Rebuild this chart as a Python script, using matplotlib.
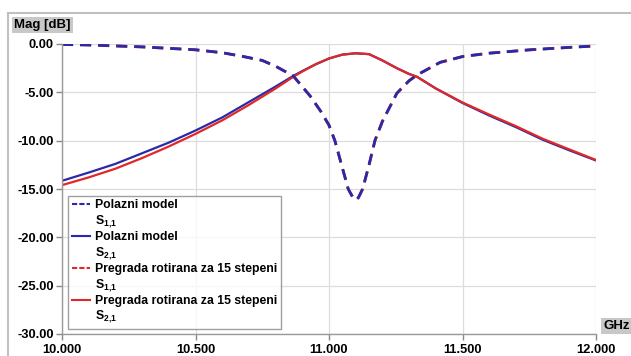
import numpy as np
import matplotlib
matplotlib.use("Agg")
import matplotlib.pyplot as plt
from matplotlib.lines import Line2D

plt.rcParams['font.family'] = ['Liberation Sans', 'DejaVu Sans']
plt.rcParams['font.weight'] = 'bold'
plt.rcParams['mathtext.fontset'] = 'custom'
plt.rcParams['mathtext.rm'] = 'Liberation Sans:bold'
plt.rcParams['mathtext.it'] = 'Liberation Sans:bold'
plt.rcParams['mathtext.bf'] = 'Liberation Sans:bold'

# S1,1 (reflection) - frequency in GHz, magnitude in dB
f_s11 = [10.0, 10.1, 10.2, 10.3, 10.4, 10.5, 10.6, 10.68, 10.75, 10.8, 10.866,
         10.93, 10.97, 11.0, 11.022, 11.05, 11.072, 11.09, 11.1, 11.11, 11.126,
         11.15, 11.172, 11.2, 11.228, 11.254, 11.3, 11.33, 11.416, 11.5, 11.6,
         11.753, 11.9, 12.0]
s11_polazni = [-0.05, -0.1, -0.2, -0.3, -0.45, -0.6, -0.9, -1.3, -1.7, -2.3, -3.3,
               -5.4, -7.0, -8.4, -10.0, -12.8, -15.0, -15.9, -16.15, -15.9, -15.0,
               -12.5, -10.0, -8.0, -6.5, -5.1, -3.8, -3.2, -1.9, -1.3, -0.95,
               -0.6, -0.35, -0.2]
s11_pregrada = [-0.05, -0.1, -0.2, -0.3, -0.45, -0.6, -0.9, -1.3, -1.7, -2.3, -3.3,
                -5.4, -7.0, -8.4, -10.0, -12.8, -15.0, -15.9, -16.1, -15.9, -15.0,
                -12.5, -10.0, -8.0, -6.5, -5.1, -3.8, -3.2, -1.9, -1.3, -0.95,
                -0.6, -0.35, -0.2]

# S2,1 (transmission)
f_s21 = [10.0, 10.1, 10.2, 10.3, 10.4, 10.5, 10.6, 10.7, 10.8, 10.866, 10.9,
         10.95, 11.0, 11.05, 11.1, 11.15, 11.2, 11.254, 11.3, 11.33, 11.4, 11.5,
         11.6, 11.7, 11.8, 11.9, 12.0]
s21_polazni = [-14.15, -13.3, -12.4, -11.3, -10.2, -8.95, -7.6, -6.0, -4.4, -3.3, -2.8,
               -2.1, -1.5, -1.1, -0.96, -1.05, -1.7, -2.5, -3.1, -3.4, -4.6, -6.1,
               -7.4, -8.6, -9.9, -11.0, -12.05]
s21_pregrada = [-14.6, -13.8, -12.9, -11.8, -10.6, -9.3, -7.9, -6.3, -4.6, -3.4, -2.85,
                -2.1, -1.5, -1.1, -0.96, -1.05, -1.7, -2.5, -3.1, -3.4, -4.6, -6.05,
                -7.3, -8.5, -9.8, -10.9, -12.0]

labels = ["Polazni model", "S$_{1{,}1}$", "Polazni model", "S$_{2{,}1}$",
          "Pregrada rotirana za 15 stepeni", "S$_{1{,}1}$",
          "Pregrada rotirana za 15 stepeni", "S$_{2{,}1}$"]
yticks = [0, -5, -10, -15, -20, -25, -30]
xticks = [10.0, 10.5, 11.0, 11.5, 12.0]

blue = '#2a2aa8'
red = '#e02828'

fig = plt.figure(figsize=(6.31, 3.56), dpi=100)
ax = fig.add_axes([62/631, 1-334/356, (596-62)/631, (334-44)/356])

ax.plot(f_s21, s21_polazni, color=blue, lw=1.6)
ax.plot(f_s21, s21_pregrada, color=red, lw=1.6)
ax.plot(f_s11, s11_pregrada, color=red, lw=2.0, dashes=(4, 2.5), dash_capstyle='butt')
ax.plot(f_s11, s11_polazni, color=blue, lw=2.0, dashes=(4, 2.5), dash_capstyle='butt')

ax.set_xlim(10, 12)
ax.set_ylim(-30, 0)
ax.set_xticks(xticks)
ax.set_yticks(yticks)
ax.set_xticklabels(['%.3f' % v for v in xticks])
ax.set_yticklabels(['%.2f' % v for v in yticks])
ax.tick_params(labelsize=9.3, color='#888888', length=4, width=1, pad=2)
ax.tick_params(axis='x', pad=3)
ax.grid(True, color='#dddddd', lw=0.9)
ax.set_axisbelow(True)
for s in ['top', 'right']:
    ax.spines[s].set_visible(False)
for s in ['left', 'bottom']:
    ax.spines[s].set_color('#999999')
    ax.spines[s].set_linewidth(1.0)

blank = Line2D([], [], color='none')
handles = [Line2D([], [], color=blue, lw=1.5, ls=(0, (2.5, 1))), blank,
           Line2D([], [], color=blue, lw=1.5), blank,
           Line2D([], [], color=red, lw=1.5, ls=(0, (2.5, 1))), blank,
           Line2D([], [], color=red, lw=1.5), blank]
leg = ax.legend(handles, labels, loc='lower left', bbox_to_anchor=(0.011, 0.017),
                fontsize=8.8, frameon=True, fancybox=False, handlelength=1.5,
                handletextpad=0.4, labelspacing=0.13, borderpad=0.3,
                borderaxespad=0)
leg.get_frame().set_edgecolor('#888888')
leg.get_frame().set_linewidth(1.0)

fig.text(14/631, 1-25/356, 'Mag [dB]', fontsize=9.5, va='center', ha='left',
         bbox=dict(facecolor='#c8c8c8', edgecolor='none', pad=1.5))
fig.text(603/631, 1-326/356, 'GHz', fontsize=9.5, va='center', ha='left',
         bbox=dict(facecolor='#c8c8c8', edgecolor='none', pad=1.5))

# outer frame
fig.add_artist(Line2D([8/631, 1], [1-13/356, 1-13/356], color='#c0c0c0', lw=1.5))
fig.add_artist(Line2D([8/631, 8/631], [0, 1-13/356], color='#c0c0c0', lw=1.5))

fig.savefig('out.png', dpi=100)
